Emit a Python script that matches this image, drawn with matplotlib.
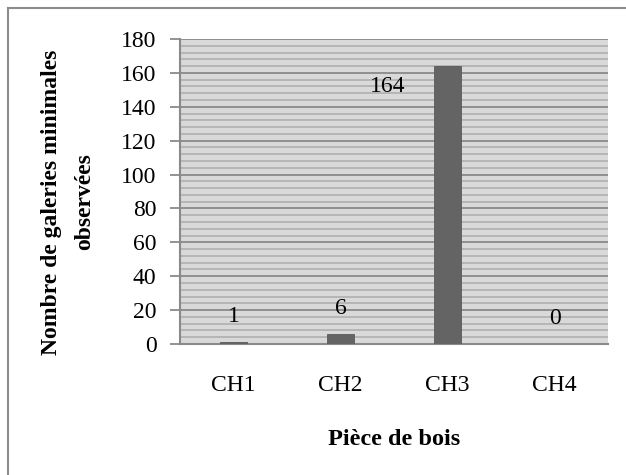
import matplotlib.pyplot as plt
from matplotlib.lines import Line2D
from matplotlib.ticker import MultipleLocator

categories = ["CH1", "CH2", "CH3", "CH4"]
galeries = [1, 6, 164, 0]
# where each value label sits (x offset in categories, y in data units)
label_dx = [0, 0, -0.56, 0]
label_y = [16, 21, 152, 15]

plt.rcParams['font.family'] = ['Liberation Serif', 'DejaVu Serif']

fig = plt.figure(figsize=(6.26, 4.75), dpi=100)
ax = fig.add_axes([180 / 626, 1 - 344 / 475, 428 / 626, 305 / 475])

x = range(len(categories))
ax.bar(x, galeries, width=0.25, color="#646464", edgecolor="#5a5a5a",
       linewidth=0.6, zorder=3)

for i, v in enumerate(galeries):
    ax.text(i + label_dx[i], label_y[i], str(v), ha="center", va="center",
            fontsize=17, zorder=4)

ax.set_xlim(-0.5, len(categories) - 0.5)
ax.set_ylim(0, 180)
ax.set_facecolor("#d9d9d9")
ax.yaxis.set_major_locator(MultipleLocator(20))
ax.yaxis.set_minor_locator(MultipleLocator(4))
ax.grid(axis="y", which="minor", color="#b0b0b0", linewidth=1.2, zorder=1)
ax.grid(axis="y", which="major", color="#8a8a8a", linewidth=1.3, zorder=2)
ax.set_axisbelow(True)

ax.set_xticks(list(x))
ax.set_xticklabels(categories, fontsize=17)
ax.tick_params(axis="x", length=0, pad=22)
ax.tick_params(axis="y", which="major", length=7, width=1.3, color="#8a8a8a",
               labelsize=17, pad=10)
ax.tick_params(axis="y", which="minor", length=0)

for side in ["top", "right"]:
    ax.spines[side].set_visible(False)
for side in ["left", "bottom"]:
    ax.spines[side].set_color("#8a8a8a")
    ax.spines[side].set_linewidth(1.5)

ax.set_xlabel("Pièce de bois", fontsize=17.5, fontweight="bold", labelpad=24)
fig.text(68 / 626, 1 - 202 / 475, "Nombre de galeries minimales\nobservées",
         rotation=90, ha="center", va="center", fontsize=17,
         fontweight="bold", linespacing=1.8)

# outer chart border (only top and left edges fall inside the image)
bx, by = 8 / 626, 1 - 8 / 475
fig.add_artist(Line2D([bx, 1.0], [by, by], transform=fig.transFigure,
                      color="#8c8c8c", linewidth=1.5))
fig.add_artist(Line2D([bx, bx], [by, 0.0], transform=fig.transFigure,
                      color="#8c8c8c", linewidth=1.5))

fig.savefig("out.png", dpi=100)
